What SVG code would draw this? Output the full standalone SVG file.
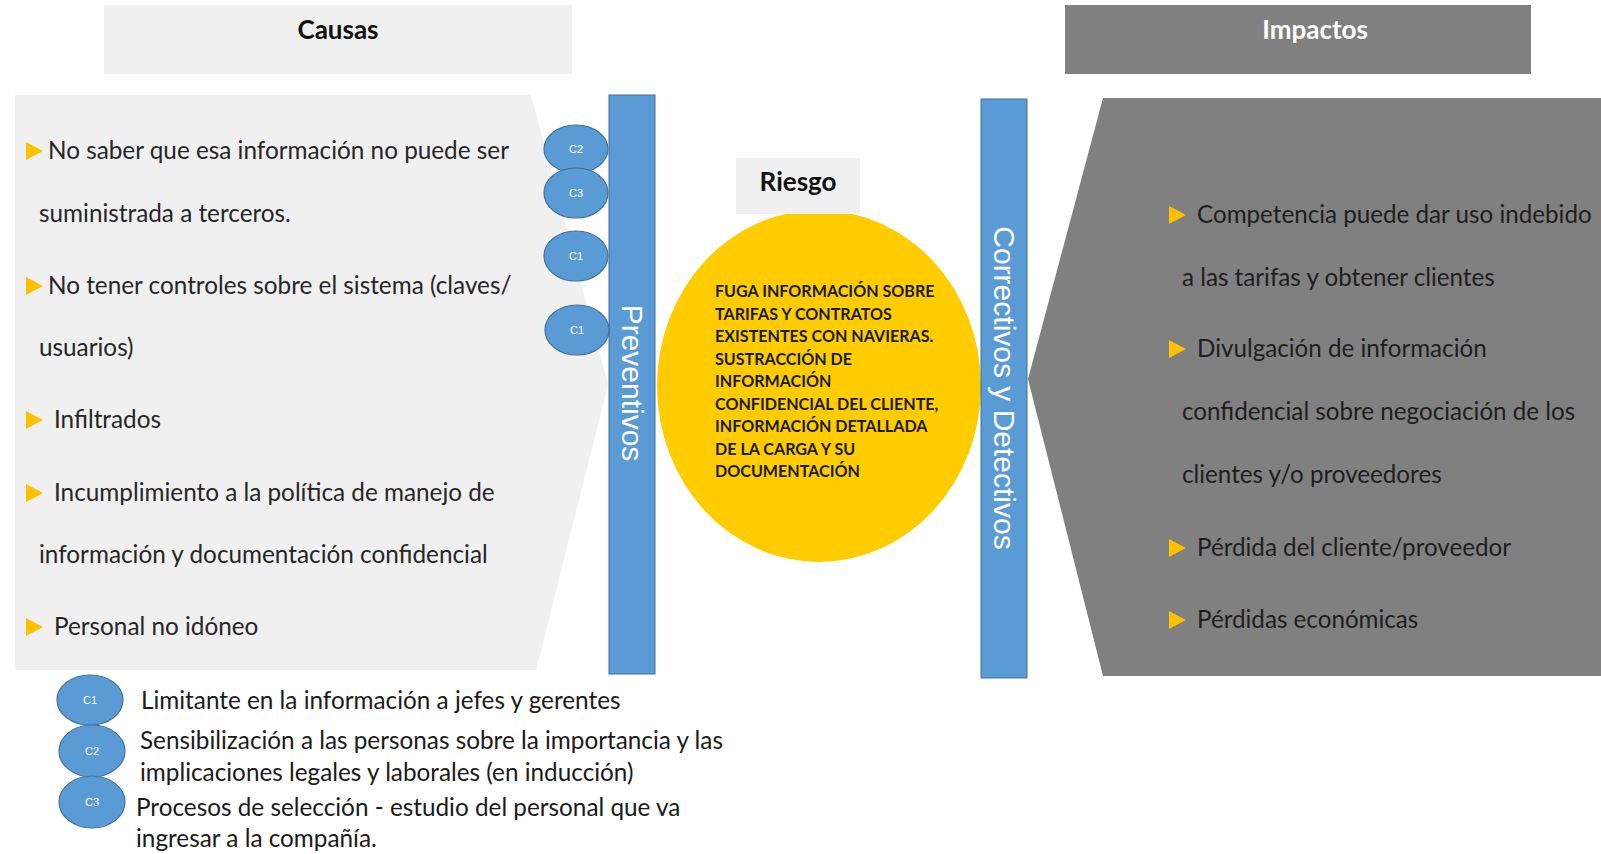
<svg xmlns="http://www.w3.org/2000/svg" width="1601" height="854" viewBox="0 0 1601 854">
<defs>
<style>
.t{font-family:Lato,"Open Sans","Liberation Sans",sans-serif;font-size:24.3px;fill:#262626}
.r{font-family:Lato,"Open Sans","Liberation Sans",sans-serif;font-size:24.2px;fill:#1e1e1e}
.lg{font-family:Lato,"Open Sans","Liberation Sans",sans-serif;font-size:24.3px;fill:#1a1a1a}
.h{font-family:Lato,"Open Sans","Liberation Sans",sans-serif;font-size:26px;font-weight:bold;text-anchor:middle}
.y{font-family:Lato,"Open Sans","Liberation Sans",sans-serif;font-size:16.1px;font-weight:bold;fill:#1a1a1a}
.v{font-family:"Liberation Sans",Arial,sans-serif;font-size:30px;fill:#ffffff;text-anchor:middle}
.cc{fill:#5B9BD5;stroke:#41719C;stroke-width:1.2}
.cl{font-family:"Liberation Sans",Arial,sans-serif;font-size:11px;fill:#ffffff;text-anchor:middle}
.bar{fill:#5B9BD5;stroke:#41719C;stroke-width:1}
</style>
<polygon id="tri" points="0,-9 17,0 0,9" fill="#FFC000"/>
</defs>
<rect width="1601" height="854" fill="#ffffff"/>

<g id="causas-header">
<rect x="104" y="5" width="468" height="69" fill="#F0F0F0"/>
<text class="h" x="338" y="39" fill="#111111">Causas</text>
</g>

<g id="impactos-header">
<rect x="1065" y="5" width="466" height="69" fill="#808080"/>
<text class="h" x="1315" y="39" fill="#ffffff">Impactos</text>
</g>

<g id="causas">
<polygon points="15,95 531,95 608,385 536,670 15,670" fill="#F0F0F0"/>
<use href="#tri" x="26" y="151"/>
<text class="t" x="48" y="159">No saber que esa información no puede ser</text>
<text class="t" x="39" y="222">suministrada a terceros.</text>
<use href="#tri" x="26" y="286"/>
<text class="t" x="48" y="294">No tener controles sobre el sistema (claves/</text>
<text class="t" x="39" y="356">usuarios)</text>
<use href="#tri" x="26" y="420"/>
<text class="t" x="54" y="428">Infiltrados</text>
<use href="#tri" x="26" y="493"/>
<text class="t" x="54" y="501">Incumplimiento a la política de manejo de</text>
<text class="t" x="39" y="563">información y documentación confidencial</text>
<use href="#tri" x="26" y="627"/>
<text class="t" x="54" y="635">Personal no idóneo</text>
</g>

<g id="impactos">
<polygon points="1103,98 1601,98 1601,676 1103,676 1028,379" fill="#808080"/>
<use href="#tri" x="1169" y="215"/>
<text class="r" x="1197" y="223">Competencia puede dar uso indebido</text>
<text class="r" x="1182" y="286">a las tarifas y obtener clientes</text>
<use href="#tri" x="1169" y="349"/>
<text class="r" x="1197" y="357">Divulgación de información</text>
<text class="r" x="1182" y="420">confidencial sobre negociación de los</text>
<text class="r" x="1182" y="483">clientes y/o proveedores</text>
<use href="#tri" x="1169" y="548"/>
<text class="r" x="1197" y="556">Pérdida del cliente/proveedor</text>
<use href="#tri" x="1169" y="620"/>
<text class="r" x="1197" y="628">Pérdidas económicas</text>
</g>

<g id="riesgo">
<ellipse cx="819" cy="386" rx="162" ry="176" fill="#FFCC00"/>
<rect x="736" y="158" width="124" height="56" fill="#F0F0F0"/>
<text class="h" x="798" y="191" fill="#111111">Riesgo</text>
<text class="y" x="715" y="297">FUGA INFORMACIÓN SOBRE</text>
<text class="y" x="715" y="319.5">TARIFAS Y CONTRATOS</text>
<text class="y" x="715" y="342">EXISTENTES CON NAVIERAS.</text>
<text class="y" x="715" y="364.5">SUSTRACCIÓN DE</text>
<text class="y" x="715" y="387">INFORMACIÓN</text>
<text class="y" x="715" y="409.5">CONFIDENCIAL DEL CLIENTE,</text>
<text class="y" x="715" y="432">INFORMACIÓN DETALLADA</text>
<text class="y" x="715" y="454.5">DE LA CARGA Y SU</text>
<text class="y" x="715" y="477">DOCUMENTACIÓN</text>
</g>

<g id="preventivos">
<rect class="bar" x="609" y="95" width="46" height="579"/>
<text class="v" transform="translate(622,383) rotate(90)">Preventivos</text>
</g>

<g id="correctivos">
<rect class="bar" x="981" y="99" width="46" height="579"/>
<text class="v" transform="translate(994,388) rotate(90)">Correctivos y Detectivos</text>
</g>

<g id="controles">
<ellipse class="cc" cx="576" cy="149" rx="32" ry="24"/>
<text class="cl" x="576" y="153">C2</text>
<ellipse class="cc" cx="576" cy="193" rx="32" ry="25"/>
<text class="cl" x="576" y="197">C3</text>
<ellipse class="cc" cx="576" cy="256" rx="32" ry="25"/>
<text class="cl" x="576" y="260">C1</text>
<ellipse class="cc" cx="577" cy="330" rx="32" ry="25"/>
<text class="cl" x="577" y="334">C1</text>
</g>

<g id="leyenda">
<ellipse class="cc" cx="90" cy="700" rx="33" ry="25"/>
<text class="cl" x="90" y="704">C1</text>
<text class="lg" x="141" y="709">Limitante en la información a jefes y gerentes</text>
<ellipse class="cc" cx="92" cy="751" rx="33" ry="26"/>
<text class="cl" x="92" y="755">C2</text>
<text class="lg" x="140" y="749">Sensibilización a las personas sobre la importancia y las</text>
<text class="lg" x="140" y="781">implicaciones legales y laborales (en inducción)</text>
<ellipse class="cc" cx="92" cy="802" rx="33" ry="26"/>
<text class="cl" x="92" y="806">C3</text>
<text class="lg" x="136" y="816">Procesos de selección - estudio del personal que va</text>
<text class="lg" x="136" y="847">ingresar a la compañía.</text>
</g>

<g id="conectores"></g>
</svg>
